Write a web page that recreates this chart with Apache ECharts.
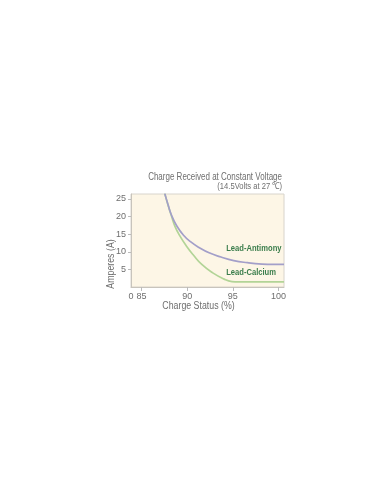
<!DOCTYPE html>
<html>
<head>
<meta charset="utf-8">
<script src="https://cdn.jsdelivr.net/npm/echarts@6/dist/echarts.min.js"></script>
<style>
html,body{margin:0;padding:0;background:#fff;}
#chart{width:390px;height:484px;}
</style>
</head>
<body>
<div id="chart"></div>
<script>
var titleText = 'Charge Received at Constant Voltage';
var subText = '(14.5Volts at 27 ℃)';
var xName = 'Charge Status (%)';
var yName = 'Amperes (A)';
var seriesNames = ['Lead-Antimony', 'Lead-Calcium'];
var xTickValues = [83.85, 85, 90, 95, 100];
var xTickLabels = ['0', '85', '90', '95', '100'];
var yTickValues = [5, 10, 15, 20, 25];

var antimonyX = [87.55, 87.9, 88.3, 88.85, 89.6, 90.4, 91.3, 92.4, 93.7, 95.1, 96.6, 98.2, 99.4, 100.6];
var antimonyY = [26.5, 23.4, 20.3, 17.4, 14.7, 12.8, 11.2, 9.7, 8.5, 7.5, 6.9, 6.5, 6.4, 6.45];
var calciumX = [87.55, 87.9, 88.3, 88.65, 89.2, 89.95, 90.7, 91.6, 92.8, 94.0, 94.9, 95.6, 100.6];
var calciumY = [26.5, 23.3, 20.0, 17.3, 14.5, 11.5, 9.0, 6.4, 4.0, 2.3, 1.55, 1.45, 1.45];

function pairs(xs, ys){ return xs.map(function(x,i){ return [x, ys[i]]; }); }

var FONT = '"Liberation Sans", Arial, sans-serif';
var GRAY = '#6e6e6e';
var chart = echarts.init(document.getElementById('chart'), null, {renderer:'canvas'});
chart.setOption({
  animation: false,
  backgroundColor: '#ffffff',
  grid: {
    left: 131, right: 106, top: 194, bottom: 197,
    show: true, backgroundColor: '#fdf6e6', borderColor: '#d8d4cc', borderWidth: 1,
    containLabel: false
  },
  xAxis: {
    type: 'value', min: 83.85, max: 100.6,
    axisLine: {show: true, lineStyle: {color: '#c8c4bc', width: 1}},
    splitLine: {show: false},
    axisTick: {show: true, length: 4, customValues: [85, 90, 95, 100], lineStyle: {color: '#bbb'}},
    axisLabel: {
      show: true, customValues: xTickValues, margin: 5,
      fontFamily: FONT, fontSize: 9, color: GRAY,
      formatter: function(v){ var i = xTickValues.indexOf(v); return i >= 0 ? xTickLabels[i] : ''; }
    }
  },
  yAxis: {
    type: 'value', min: 0, max: 26.4,
    axisLine: {show: true, lineStyle: {color: '#c8c4bc', width: 1}},
    splitLine: {show: false},
    axisTick: {show: true, length: 3, customValues: yTickValues, lineStyle: {color: '#bbb'}},
    axisLabel: {show: true, customValues: yTickValues, margin: 5, fontFamily: FONT, fontSize: 9, color: GRAY}
  },
  graphic: [
    {type: 'text', x: 282, y: 177.5, scaleX: 0.8,
     style: {text: titleText, font: '10px ' + FONT, fill: GRAY, align: 'right', verticalAlign: 'middle'}},
    {type: 'text', x: 282, y: 186.5, scaleX: 0.8,
     style: {text: subText, font: '9.5px ' + FONT, fill: GRAY, align: 'right', verticalAlign: 'middle'}},
    {type: 'text', x: 111, y: 264, rotation: Math.PI/2, scaleX: 0.88,
     style: {text: yName, font: '10px ' + FONT, fill: GRAY, align: 'center', verticalAlign: 'middle'}},
    {type: 'text', x: 198.5, y: 306, scaleX: 0.88,
     style: {text: xName, font: '10px ' + FONT, fill: GRAY, align: 'center', verticalAlign: 'middle'}},
    {type: 'text', x: 281.5, y: 248.5, scaleX: 0.8,
     style: {text: seriesNames[0], font: 'bold 9.5px ' + FONT, fill: '#3a7d4b', align: 'right', verticalAlign: 'middle'}},
    {type: 'text', x: 276, y: 272.5, scaleX: 0.8,
     style: {text: seriesNames[1], font: 'bold 9.5px ' + FONT, fill: '#3a7d4b', align: 'right', verticalAlign: 'middle'}}
  ],
  series: [
    {name: seriesNames[1], type: 'line', data: pairs(calciumX, calciumY), smooth: 0.5,
     showSymbol: false, clip: true, lineStyle: {color: '#b2d497', width: 1.7}},
    {name: seriesNames[0], type: 'line', data: pairs(antimonyX, antimonyY), smooth: 0.5,
     showSymbol: false, clip: true, lineStyle: {color: '#a39fc9', width: 1.7}}
  ]
});
</script>
</body>
</html>
